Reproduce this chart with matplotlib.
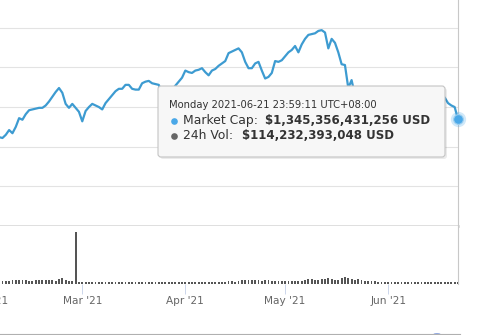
import matplotlib
matplotlib.use("Agg")
import matplotlib.pyplot as plt
from matplotlib.patches import FancyBboxPatch, Ellipse
from matplotlib.transforms import ScaledTranslation
from datetime import datetime
import pandas as pd

# daily total market cap (trillion USD), Feb 4 .. Jun 21 2021, plus the last tooltip point
feb_cap = [1.12, 1.11, 1.15, 1.21, 1.17, 1.25, 1.36, 1.34, 1.41, 1.46, 1.47, 1.48, 1.49,
           1.49, 1.52, 1.57, 1.63, 1.69, 1.74, 1.68, 1.54, 1.49, 1.54, 1.49, 1.44]
mar_cap = [1.32, 1.45, 1.50, 1.54, 1.52, 1.50, 1.47, 1.55, 1.60, 1.65, 1.70, 1.73, 1.73,
           1.78, 1.78, 1.73, 1.72, 1.72, 1.80, 1.82, 1.83, 1.80, 1.79, 1.78, 1.68, 1.64,
           1.68, 1.72, 1.77, 1.82, 1.87]
apr_cap = [1.96, 1.94, 1.93, 1.96, 1.97, 1.99, 1.94, 1.90, 1.96, 1.98, 2.02, 2.05, 2.08,
           2.18, 2.20, 2.22, 2.24, 2.19, 2.07, 1.99, 1.99, 2.05, 2.07, 1.96, 1.86, 1.88,
           1.93, 2.08, 2.07, 2.09]
may_cap = [2.14, 2.19, 2.22, 2.27, 2.19, 2.29, 2.36, 2.41, 2.42, 2.43, 2.46, 2.47, 2.44,
           2.24, 2.36, 2.31, 2.19, 2.04, 2.03, 1.74, 1.84, 1.65, 1.59, 1.53, 1.64, 1.65,
           1.66, 1.61, 1.56, 1.59, 1.64]
jun_cap = [1.65, 1.64, 1.68, 1.64, 1.61, 1.62, 1.60, 1.55, 1.59, 1.61, 1.60, 1.59, 1.61,
           1.65, 1.66, 1.65, 1.64, 1.62, 1.55, 1.52, 1.50]
last_cap = 1.345356431256

# daily 24h volume (billion USD)
feb_vol = [150, 150, 150, 160, 190, 200, 200, 190, 180, 170, 170, 180, 180, 190, 180,
           190, 190, 150, 250, 300, 220, 170, 150, 2600, 120]
mar_vol = [110, 100, 100, 110, 120, 100, 90, 100, 110, 110, 110, 120, 110, 100, 110, 100,
           100, 110, 100, 90, 90, 100, 110, 110, 120, 100, 90, 90, 100, 110, 110]
apr_vol = [110, 110, 100, 100, 110, 120, 120, 110, 100, 100, 100, 110, 120, 130, 130, 120,
           140, 200, 220, 180, 200, 220, 180, 170, 200, 180, 160, 150, 160, 170]
may_vol = [150, 140, 150, 160, 160, 170, 200, 240, 250, 220, 200, 230, 250, 280, 230, 180,
           220, 300, 350, 300, 250, 220, 240, 200, 170, 150, 140, 130, 110, 100, 110]
jun_vol = [100, 110, 100, 90, 90, 80, 80, 110, 110, 100, 100, 90, 80, 80, 90, 90, 90, 90,
           80, 90, 100]
last_vol = 114.232393048

month_ticks = ["2021-03-01", "2021-04-01", "2021-05-01", "2021-06-01"]
month_labels = ["Mar '21", "Apr '21", "May '21", "Jun '21"]

days = list(pd.date_range("2021-02-04", "2021-06-21", freq="D").to_pydatetime())
last_time = datetime(2021, 6, 21, 23, 59, 11)
dates = days + [last_time]
cap = feb_cap + mar_cap + apr_cap + may_cap + jun_cap + [last_cap]
vol = feb_vol + mar_vol + apr_vol + may_vol + jun_vol + [last_vol]

W, H = 482, 335
fig = plt.figure(figsize=(W / 100, H / 100), dpi=100)
plt.rcParams["font.family"] = ["DejaVu Sans"]

x0, x1 = datetime(2021, 2, 4, 6, 10), datetime(2021, 6, 22, 0, 0)
grid_c = "#e3e3e3"
line_c = "#3d9bd1"

# market cap pane
ax = fig.add_axes([0, 1 - 226 / H, 458 / W, 226 / H])
ax.plot(dates, cap, color=line_c, lw=1.6, solid_joinstyle="round", zorder=3)
ax.plot([last_time], [last_cap], "o", ms=11, color="#4aa8e8", alpha=0.25,
        mec="none", clip_on=False, zorder=4)
ax.plot([last_time], [last_cap], "o", ms=7, color="#4aa8e8", mec="#9fd0f0",
        mew=0.8, clip_on=False, zorder=5)
ax.set_xlim(x0, x1)
ax.set_ylim(0, 2.85)
ax.set_yticks([0.5, 1.0, 1.5, 2.0, 2.5])
ax.grid(axis="y", color=grid_c, lw=0.8)
ax.axhline(0, color="#dcdcdc", lw=2.0, clip_on=False, zorder=2)
ax.tick_params(left=False, labelleft=False, bottom=False, labelbottom=False)
for s in ["top", "left", "bottom"]:
    ax.spines[s].set_visible(False)
ax.spines["right"].set_color("#c8c8c8")
ax.spines["right"].set_linewidth(0.8)

# volume pane
axv = fig.add_axes([0, 51 / H, 458 / W, 58 / H])
axv.bar(dates, [v / 1000 for v in vol], width=0.55, color="#555555", zorder=3)
axv.set_xlim(x0, x1)
axv.set_ylim(0, 2.9)
axv.set_yticks([])
axv.set_xticks([datetime.strptime(d, "%Y-%m-%d") for d in month_ticks])
axv.set_xticklabels(month_labels)
axv.tick_params(axis="x", length=7, width=0.7, color="#ccd6eb", labelcolor="#666666",
                labelsize=7.6, pad=1.5)
for s in ["top", "left", "bottom"]:
    axv.spines[s].set_visible(False)
axv.spines["right"].set_color("#c8c8c8")
axv.spines["right"].set_linewidth(0.8)
off = ScaledTranslation(0, -(7 + 1.5) / 72, fig.dpi_scale_trans)
axv.text(datetime(2021, 2, 1), 0, "Feb '21", transform=axv.get_xaxis_transform() + off,
         ha="center", va="top", fontsize=7.6, color="#666666", clip_on=False)

# overlay in pixel coordinates for the tooltip and the page edge
ov = fig.add_axes([0, 0, 1, 1], zorder=10)
ov.set_xlim(0, W)
ov.set_ylim(H, 0)
ov.axis("off")
ov.patch.set_alpha(0)

ov.add_patch(FancyBboxPatch((160, 88), 287, 71, boxstyle="round,pad=0,rounding_size=3",
                            fc="#000000", ec="none", alpha=0.08))
ov.add_patch(FancyBboxPatch((158, 86), 287, 71, boxstyle="round,pad=0,rounding_size=3",
                            fc="#f7f7f7", ec="#c4c4c4", lw=0.8))
ov.text(169, 104.5, "Monday 2021-06-21 23:59:11 UTC+08:00", fontsize=7.2,
        color="#333333", va="center", ha="left")
ov.plot(173.5, 120.5, "o", ms=4.8, color="#4aa8e8", mec="none")
ov.text(183, 120.5, "Market Cap: ", fontsize=8.9, color="#333333", va="center")
ov.text(265, 120.5, "$1,345,356,431,256 USD", fontsize=8.45, color="#333333",
        va="center", fontweight="bold")
ov.plot(173.5, 135.5, "o", ms=4.8, color="#666666", mec="none")
ov.text(183, 135.5, "24h Vol: ", fontsize=8.9, color="#333333", va="center")
ov.text(242, 135.5, "$114,232,393,048 USD", fontsize=8.45, color="#333333",
        va="center", fontweight="bold")

ov.plot([0, 460], [333.5, 333.5], color="#b0b0b0", lw=0.8)
ov.add_patch(Ellipse((437, 343), 24, 19, fc="#2050c8", ec="none"))

fig.savefig("out.png", dpi=100)
